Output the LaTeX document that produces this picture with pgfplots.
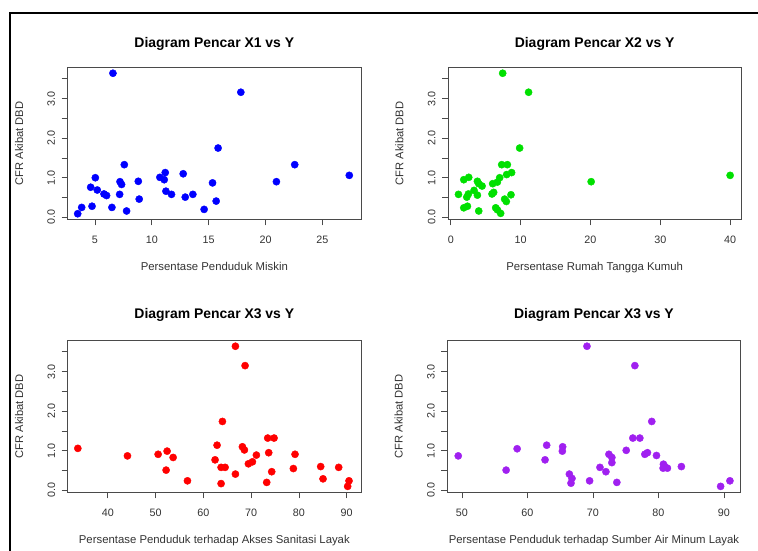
\documentclass[border=0pt]{standalone}
\usepackage{pgfplots}
\pgfplotsset{compat=1.18}
\usepackage{fontspec}
\setmainfont{Liberation Sans}
\definecolor{rpurple}{HTML}{A020F0}
\definecolor{rgreen}{HTML}{00E000}
\definecolor{axgray}{HTML}{4A4A4A}
\definecolor{txtgray}{HTML}{333333}
\pgfplotsset{
  rplot/.style={
    scale only axis, width=293.3bp, height=151.6bp,
    anchor=south west,
    ymin=-0.05, ymax=3.78,
    ytick={0,0.5,1,1.5,2,2.5,3,3.5},
    yticklabels={0.0,,1.0,,2.0,,3.0,},
    xtick pos=bottom, ytick pos=left,
    tick align=outside, major tick length=6bp,
    tick style={axgray, line width=0.8bp},
    axis line style={axgray, line width=1bp},
    /pgf/number format/assume math mode=true,
    xticklabel style={font=\fontsize{10.8}{12}\selectfont, text=txtgray, anchor=base, yshift=-18.6bp},
    yticklabel style={font=\fontsize{10.8}{12}\selectfont, text=txtgray, xshift=-6.7bp, rotate=90, anchor=base},
    every axis title/.style={at={(rel axis cs:0.5,1)}, anchor=base, yshift=20bp, font=\fontsize{14}{16}\selectfont\bfseries},
    every axis x label/.style={at={(rel axis cs:0.5,0)}, anchor=base, yshift=-51bp, font=\fontsize{11.4}{13}\selectfont, text=txtgray},
    every axis y label/.style={at={(rel axis cs:0,0.5)}, xshift=-44.7bp, rotate=90, anchor=base, font=\fontsize{11.2}{13}\selectfont, text=txtgray},
    ylabel={CFR Akibat DBD},
  },
  rpts/.style={only marks, mark=*, mark size=3.6bp, color=#1, mark options={draw=none, fill=#1}},
}
\begin{document}
\begin{tikzpicture}
\path[use as bounding box] (0,0) rectangle (758bp,551bp);
\draw[line width=2bp, black] (10bp,0) -- (10bp,538bp) -- (758bp,538bp);

\begin{axis}[rplot, at={(67.7bp,331.7bp)}, xmin=2.6, xmax=28.4, xtick={5,10,15,20,25},
  title={Diagram Pencar X1 vs Y}, xlabel={Persentase Penduduk Miskin}]
\addplot[rpts=blue] coordinates {
(6.58,3.64)(17.83,3.16)(15.83,1.75)(7.58,1.33)(22.57,1.33)(27.37,1.06)(5.03,1.00)
(11.18,1.13)(10.71,1.01)(11.09,0.95)(12.76,1.10)(20.96,0.90)(15.34,0.87)(8.81,0.91)
(7.20,0.90)(7.34,0.83)(4.62,0.76)(5.20,0.69)(5.79,0.59)(6.02,0.55)(7.17,0.58)
(11.24,0.66)(11.73,0.58)(13.61,0.58)(12.94,0.51)(8.89,0.46)(15.66,0.41)(4.74,0.28)
(3.83,0.25)(6.49,0.25)(14.60,0.20)(7.78,0.16)(3.48,0.09)};
\end{axis}

\begin{axis}[rplot, at={(448bp,331.7bp)}, xmin=-0.4, xmax=41.6, xtick={0,10,20,30,40},
  title={Diagram Pencar X2 vs Y}, xlabel={Persentase Rumah Tangga Kumuh}]
\addplot[rpts=rgreen] coordinates {
(7.43,3.64)(11.14,3.16)(9.86,1.75)(7.29,1.33)(8.10,1.33)(40.0,1.06)(20.10,0.90)
(2.57,1.01)(1.86,0.95)(8.71,1.13)(8.00,1.08)(7.00,1.00)(3.81,0.91)(4.00,0.85)
(4.48,0.79)(6.00,0.85)(6.67,0.89)(3.33,0.68)(1.10,0.58)(2.29,0.51)(2.52,0.59)
(3.81,0.56)(5.90,0.59)(8.62,0.57)(7.71,0.46)(7.95,0.40)(1.86,0.24)(2.38,0.28)
(4.00,0.16)(6.43,0.24)(6.67,0.19)(7.14,0.10)(6.14,0.63)};
\end{axis}

\begin{axis}[rplot, at={(67.7bp,58.7bp)}, xmin=31.6, xmax=93.0, xtick={40,50,60,70,80,90},
  title style={yshift=2bp},
  title={Diagram Pencar X3 vs Y}, xlabel={Persentase Penduduk terhadap Akses Sanitasi Layak}]
\addplot[rpts=red] coordinates {
(33.72,1.06)(44.11,0.87)(50.53,0.91)(52.41,0.99)(52.20,0.51)(53.67,0.83)(56.67,0.24)
(66.71,3.64)(68.73,3.15)(63.99,1.74)(62.87,1.14)(62.45,0.77)(63.71,0.58)(64.55,0.58)
(63.71,0.17)(66.71,0.41)(68.17,1.10)(68.59,1.02)(69.43,0.67)(70.27,0.72)(71.10,0.89)
(73.47,1.32)(74.80,1.32)(73.68,0.95)(74.31,0.47)(73.26,0.20)(79.19,0.91)(78.84,0.55)
(84.56,0.60)(85.05,0.29)(88.33,0.58)(90.49,0.24)(90.21,0.10)};
\end{axis}

\begin{axis}[rplot, at={(447.3bp,58.7bp)}, xmin=47.77, xmax=92.54, xtick={50,60,70,80,90},
  title style={yshift=2bp},
  title={Diagram Pencar X3 vs Y}, xlabel={Persentase Penduduk terhadap Sumber Air Minum Layak}]
\addplot[rpts=rpurple] coordinates {
(69.09,3.64)(76.40,3.15)(78.98,1.74)(76.09,1.32)(77.16,1.32)(49.44,0.87)(56.75,0.51)
(58.43,1.05)(62.94,1.14)(62.69,0.77)(65.38,1.10)(65.33,0.99)(66.40,0.41)(66.80,0.30)
(66.65,0.18)(69.49,0.24)(71.07,0.58)(71.98,0.47)(72.44,0.91)(72.89,0.83)(72.89,0.70)
(73.65,0.20)(75.08,1.01)(77.92,0.91)(78.32,0.95)(79.70,0.88)(80.76,0.66)(80.91,0.61)
(80.71,0.56)(81.37,0.56)(83.50,0.60)(89.49,0.10)(90.91,0.24)};
\end{axis}
\end{tikzpicture}
\end{document}
